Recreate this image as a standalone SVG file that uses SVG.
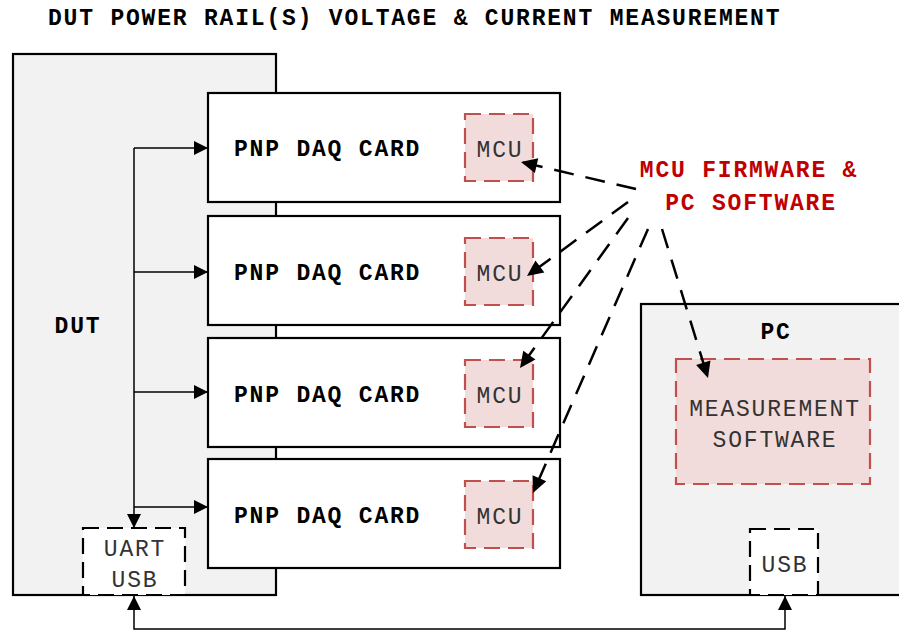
<svg xmlns="http://www.w3.org/2000/svg" width="899" height="631" viewBox="0 0 899 631">
<defs>
<style>
.box{fill:#ffffff;stroke:#000;stroke-width:2.2}
.grey{fill:#f2f2f2;stroke:#000;stroke-width:2.2}
.mcu{fill:#f2dcdb;stroke:#c0504d;stroke-width:2.2;stroke-dasharray:16 8}
.port{fill:#ffffff;stroke:#000;stroke-width:2.2;stroke-dasharray:16 8}
.t{font-family:"Liberation Mono","DejaVu Sans Mono",monospace;font-size:23px;letter-spacing:1.8px}
.b{font-weight:bold;fill:#000}
.r{fill:#333333}
.red{font-weight:bold;fill:#c00000}
.wire{fill:none;stroke:#000;stroke-width:1.5}
.dash{fill:none;stroke:#000;stroke-width:2.5;stroke-dasharray:20 12}
</style>
<marker id="ah" markerUnits="userSpaceOnUse" markerWidth="16" markerHeight="16" viewBox="0 0 16 16" refX="15" refY="8" orient="auto-start-reverse">
<path d="M1,1 L15,8 L1,15 Z" fill="#000"/>
</marker>
<marker id="ah2" markerUnits="userSpaceOnUse" markerWidth="18" markerHeight="18" viewBox="0 0 18 18" refX="17" refY="9" orient="auto">
<path d="M1,1.5 L17,9 L1,16.5 Z" fill="#000"/>
</marker>
</defs>
<rect width="899" height="631" fill="#ffffff"/>
<text class="t b" x="48" y="25">DUT POWER RAIL(S) VOLTAGE &amp; CURRENT MEASUREMENT</text>

<g id="dut">
<rect class="grey" x="13" y="54" width="263" height="541"/>
<text class="t b" x="78" y="333" text-anchor="middle">DUT</text>
</g>
<g id="pc">
<rect class="grey" x="641" y="304" width="270" height="291"/>
<text class="t b" x="776" y="339" text-anchor="middle">PC</text>
</g>

<g id="card1">
<rect class="box" x="208" y="93" width="352" height="109"/>
<text class="t b" x="234" y="156">PNP DAQ CARD</text>
</g>
<g id="mcu1">
<rect class="mcu" x="465" y="114" width="68" height="67"/>
<text class="t r" x="500" y="157" text-anchor="middle">MCU</text>
</g>
<g id="card2">
<rect class="box" x="208" y="216" width="352" height="109"/>
<text class="t b" x="234" y="280">PNP DAQ CARD</text>
</g>
<g id="mcu2">
<rect class="mcu" x="465" y="238" width="68" height="67"/>
<text class="t r" x="500" y="281" text-anchor="middle">MCU</text>
</g>
<g id="card3">
<rect class="box" x="208" y="338" width="352" height="109"/>
<text class="t b" x="234" y="402">PNP DAQ CARD</text>
</g>
<g id="mcu3">
<rect class="mcu" x="465" y="360" width="68" height="67"/>
<text class="t r" x="500" y="403" text-anchor="middle">MCU</text>
</g>
<g id="card4">
<rect class="box" x="208" y="459" width="352" height="109"/>
<text class="t b" x="234" y="523">PNP DAQ CARD</text>
</g>
<g id="mcu4">
<rect class="mcu" x="465" y="481" width="68" height="67"/>
<text class="t r" x="500" y="524" text-anchor="middle">MCU</text>
</g>

<g id="uart">
<rect class="port" x="83" y="528" width="102" height="67"/>
<text class="t r" x="135" y="556" text-anchor="middle">UART</text>
<text class="t r" x="135" y="587" text-anchor="middle">USB</text>
</g>
<g id="usb">
<rect class="port" x="750" y="529" width="68" height="66"/>
<text class="t r" x="785" y="572" text-anchor="middle">USB</text>
</g>
<g id="software">
<rect class="mcu" x="676" y="359" width="194" height="125"/>
<text class="t r" x="775" y="416" text-anchor="middle">MEASUREMENT</text>
<text class="t r" x="775" y="447" text-anchor="middle">SOFTWARE</text>
</g>
<g id="label">
<text class="t red" x="749" y="177" text-anchor="middle">MCU FIRMWARE &amp;</text>
<text class="t red" x="751" y="210" text-anchor="middle">PC SOFTWARE</text>
</g>

<g id="connectors">
<path class="wire" d="M134,148 V528" marker-end="url(#ah)"/>
<path class="wire" d="M134,148 H208" marker-end="url(#ah)"/>
<path class="wire" d="M134,272 H208" marker-end="url(#ah)"/>
<path class="wire" d="M134,392 H208" marker-end="url(#ah)"/>
<path class="wire" d="M134,507 H208" marker-end="url(#ah)"/>
<path class="wire" d="M134,596 V629 H785 V596" marker-start="url(#ah)" marker-end="url(#ah)"/>
<path class="dash" d="M636,189 L521,162" marker-end="url(#ah2)"/>
<path class="dash" d="M628,202 L527,276" marker-end="url(#ah2)"/>
<path class="dash" d="M628,218 L520,368" marker-end="url(#ah2)"/>
<path class="dash" d="M648,229 L533,493" marker-end="url(#ah2)"/>
<path class="dash" d="M662,229 L708,378" marker-end="url(#ah2)"/>
</g>
</svg>
